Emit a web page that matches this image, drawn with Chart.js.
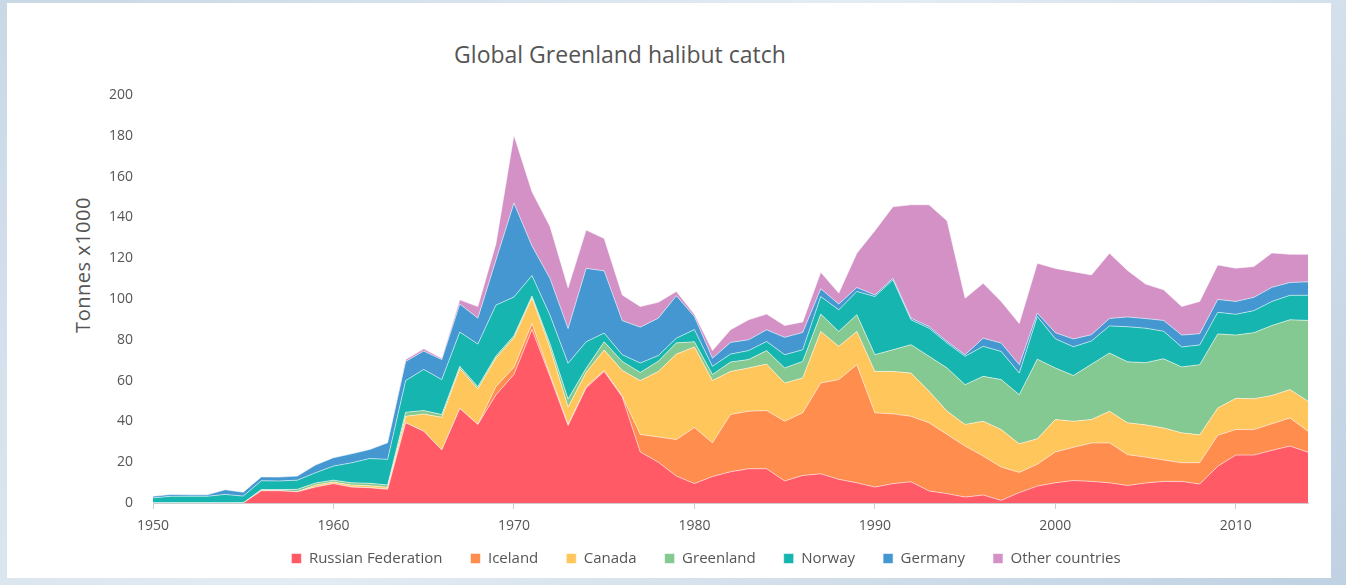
<!DOCTYPE html>
<html>
<head>
<meta charset="utf-8">
<title>Global Greenland halibut catch</title>
<script src="https://cdn.jsdelivr.net/npm/chart.js@4.4.1/dist/chart.umd.min.js"></script>
<style>
  html, body { margin: 0; padding: 0; overflow: hidden; }
  body {
    width: 1346px; height: 585px;
    background: linear-gradient(135deg, #c9d8e6 0%, #e4ecf3 45%, #bfd1e2 100%);
    font-family: "Open Sans", sans-serif;
  }
  #panel {
    position: absolute; left: 7px; top: 3px; width: 1324px; height: 575px;
    background: #fff;
  }
  #title {
    position: absolute; left: 0; top: 38px; width: 1240px;
    text-align: center; font-size: 23px; line-height: 32px; color: #555;
  }
  #ytitle {
    position: absolute; left: 83px; top: 265px; width: 200px; height: 26px;
    margin-left: -100px; margin-top: -13px;
    transform: rotate(-90deg);
    text-align: center; font-size: 20px; line-height: 26px; color: #555;
    letter-spacing: 0.5px; white-space: nowrap;
  }
  #wrap { position: absolute; left: 104px; top: 0; width: 1242px; height: 588px; }
</style>
</head>
<body>
<div id="panel"></div>
<div id="title">Global Greenland halibut catch</div>
<div id="ytitle">Tonnes x1000</div>
<div id="wrap"><canvas id="catchChart"></canvas></div>
<script>
// Catch by country, thousand tonnes
const years = [
  1950, 1951, 1952, 1953, 1954, 1955, 1956, 1957, 1958, 1959,
  1960, 1961, 1962, 1963, 1964, 1965, 1966, 1967, 1968, 1969,
  1970, 1971, 1972, 1973, 1974, 1975, 1976, 1977, 1978, 1979,
  1980, 1981, 1982, 1983, 1984, 1985, 1986, 1987, 1988, 1989,
  1990, 1991, 1992, 1993, 1994, 1995, 1996, 1997, 1998, 1999,
  2000, 2001, 2002, 2003, 2004, 2005, 2006, 2007, 2008, 2009,
  2010, 2011, 2012, 2013, 2014
];

const russia = [
  0, 0, 0, 0, 0, 0,
  6, 6, 5.5, 7.8, 9.5,
  7.8, 7.5, 6.7, 39.3, 35.2,
  26, 46.3, 38.5, 53, 63,
  85, 62, 38, 56.4, 64.5,
  52, 25, 20, 13.2, 9.5,
  13, 15.3, 16.8, 16.8, 10.8,
  13.5, 14.3, 11.6, 9.9, 7.8,
  9.5, 10.4, 5.9, 4.6, 2.9,
  3.9, 1.3, 5.1, 8.3, 9.9,
  11, 10.6, 9.9, 8.6, 9.8,
  10.6, 10.6, 9.3, 18, 23.5,
  23.5, 25.8, 27.9, 24.9
];
const iceland = [
  0, 0, 0, 0, 0, 0,
  0, 0, 0, 0, 0,
  0, 0, 0, 0, 0,
  0, 0, 0, 4, 3.5,
  3, 1, 0.5, 0.6, 0.5,
  0.5, 8.6, 12.4, 17.9, 27.5,
  16.5, 28.1, 28.2, 28.5, 29.3,
  30.7, 44.5, 48.9, 57.9, 36.4,
  34.2, 32.1, 33.4, 29, 25,
  19.1, 16.3, 9.9, 10.7, 15.1,
  16.3, 18.8, 19.6, 15.1, 12.7,
  10.5, 9.1, 10.5, 15.2, 12.5,
  12.5, 13, 13.8, 10.3
];
const canada = [
  0, 0, 0, 0, 0, 0,
  0, 0, 0, 1, 0.8,
  1, 1, 1, 3.2, 8.4,
  16, 19.6, 17.4, 14, 14.5,
  12.5, 13, 8.5, 7, 10,
  12.5, 26.4, 32.1, 41.9, 39.5,
  30.5, 21.1, 21.2, 22.8, 18.7,
  17.1, 25.3, 16.3, 16.3, 20.3,
  20.8, 21.2, 15.5, 11.4, 10.6,
  17.1, 18.4, 14, 12.5, 15.9,
  12.8, 11.5, 15.5, 15.6, 15.8,
  15.7, 14.7, 13.6, 13.4, 15.3,
  15.1, 13.9, 13.9, 14.7
];
const greenland = [
  0, 0, 0, 0, 0, 0,
  0.6, 0.6, 1.2, 1, 0.9,
  1.1, 1.2, 1.1, 2, 1.7,
  1.4, 1.1, 1.1, 1, 1,
  1, 2, 4, 2, 4,
  4.4, 4, 5, 5.5, 2.5,
  3, 4.6, 4.1, 6.6, 7.4,
  8.1, 8.5, 7.3, 8.2, 8.2,
  10.6, 13.9, 17.1, 21.2, 19.5,
  22, 24.5, 24.1, 39, 25.3,
  22.4, 27.1, 28.5, 29.9, 30.5,
  33.9, 32.3, 34.4, 36.3, 31,
  32.4, 34.3, 34.2, 39.6
];
const norway = [
  2.5, 3.3, 3.3, 3.3, 4.2, 3.4,
  4.3, 4.2, 4.5, 5, 6.9,
  9.8, 12.1, 12.6, 15.5, 20.2,
  17.1, 16.8, 20.9, 25, 19,
  10, 14, 17.5, 13, 4.3,
  3.3, 4.6, 2.8, 2.3, 6,
  4, 3.9, 4.4, 4.5, 6.5,
  5.7, 8.6, 10.6, 11.4, 28.5,
  34.3, 12.2, 13.8, 12.2, 13.9,
  14.7, 13.8, 10.6, 20.9, 14.3,
  14.1, 11.4, 13.3, 17.2, 16.9,
  13.5, 9.8, 9.7, 10.6, 10.2,
  10.8, 11.8, 12, 12.3
];
const germany = [
  0.8, 0.9, 0.7, 0.7, 2.3, 1.9,
  1.9, 1.9, 2, 3.8, 4.1,
  4.4, 4.4, 8.1, 9.4, 9,
  9.8, 13.7, 12.7, 22, 46,
  14.5, 18, 17, 36, 30.5,
  16.7, 17.6, 18.3, 20.8, 6.4,
  4, 5.7, 5.3, 5.7, 8.5,
  8.5, 3.8, 2.8, 1.9, 0.8,
  0.8, 0.8, 0.8, 0.8, 0.8,
  4, 4.1, 4.1, 1.7, 3,
  3.8, 3.1, 3.7, 4.8, 4.7,
  5.3, 5.8, 5.5, 6.3, 6.3,
  6.5, 6.9, 6.3, 6.6
];
const otherCountries = [
  0, 0, 0, 0, 0, 0,
  0, 0, 0, 0, 0,
  0, 0, 0, 0.9, 1.1,
  0.7, 2.1, 5.7, 8, 33.3,
  26.6, 25.5, 20, 18.8, 15.9,
  12.6, 10.1, 7.8, 2.1, 1.1,
  3.7, 6.2, 9.8, 7.7, 5.8,
  5.1, 8.1, 5.4, 16.8, 31.5,
  35, 55.6, 59.7, 59.1, 27.7,
  26.9, 20.4, 20.2, 24.4, 31.5,
  33, 29.3, 31.9, 22.8, 16.9,
  15, 14, 15.8, 16.9, 16.3,
  15.1, 16.9, 13.8, 13.5
];

const seriesNames = ['Russian Federation', 'Iceland', 'Canada', 'Greenland', 'Norway', 'Germany', 'Other countries'];
const seriesData = [russia, iceland, canada, greenland, norway, germany, otherCountries];
const seriesColors = ['#ff5a66', '#ff8d4e', '#ffc65c', '#84c991', '#17b5b0', '#4497d0', '#d391c6'];

const datasets = seriesNames.map((name, i) => ({
  label: name,
  data: seriesData[i],
  backgroundColor: seriesColors[i],
  borderColor: 'rgba(255,255,255,0.55)',
  borderWidth: 1,
  pointRadius: 0,
  tension: 0,
  fill: i === 0 ? 'origin' : '-1'
}));

// the legend sits closer to the year labels than Chart.js would put it
const liftLegend = {
  id: 'liftLegend',
  afterLayout(chart) {
    if (chart.legend) {
      chart.legend.top -= 12;
      chart.legend.bottom -= 12;
    }
  }
};

const ctx = document.getElementById('catchChart').getContext('2d');
new Chart(ctx, {
  type: 'line',
  data: { labels: years, datasets: datasets },
  plugins: [liftLegend],
  options: {
    responsive: true,
    maintainAspectRatio: false,
    animation: false,
    layout: { padding: { top: 95, right: 38, left: 0, bottom: 0 } },
    plugins: {
      title: { display: false },
      tooltip: { enabled: false },
      legend: {
        position: 'bottom',
        labels: {
          boxWidth: 10,
          boxHeight: 10,
          padding: 28,
          color: '#555',
          font: { family: 'Open Sans', size: 15 }
        }
      }
    },
    scales: {
      x: {
        offset: false,
        grid: { drawOnChartArea: false, drawTicks: true, tickLength: 6, color: '#ccc' },
        border: { display: true, color: '#ccc' },
        ticks: {
          autoSkip: false,
          maxRotation: 0,
          padding: 9,
          color: '#555',
          font: { family: 'Open Sans', size: 14 },
          callback: function (val, idx) {
            const y = years[idx];
            return y % 10 === 0 ? String(y) : null;
          }
        },
        afterFit: (s) => { s.height = 32; }
      },
      y: {
        stacked: true,
        min: 0,
        max: 200,
        grid: { display: false },
        border: { display: false },
        ticks: {
          stepSize: 20,
          padding: 12,
          color: '#555',
          font: { family: 'Open Sans', size: 14 }
        },
        afterFit: (s) => { s.width = 49; }
      }
    }
  }
});
</script>
</body>
</html>
